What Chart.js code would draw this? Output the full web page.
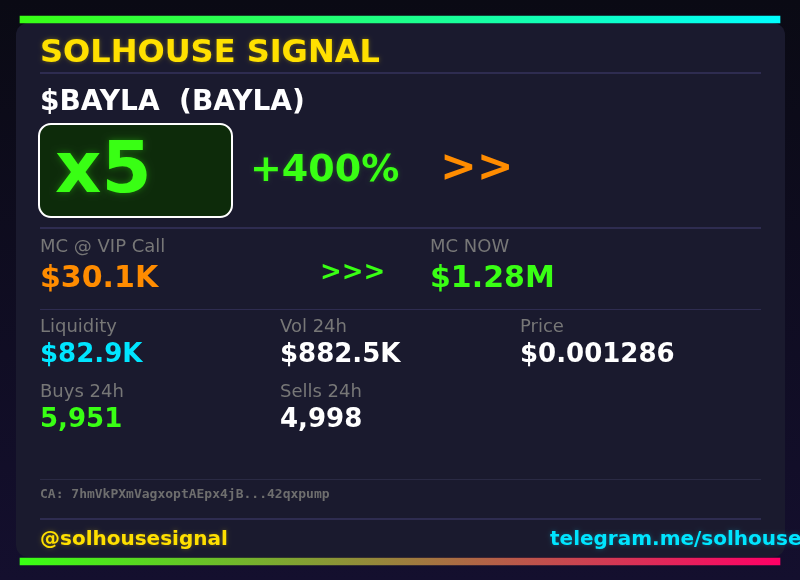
<!DOCTYPE html>
<html>
<head>
<meta charset="utf-8">
<title>Solhouse Signal</title>
<script src="https://cdn.jsdelivr.net/npm/chart.js@4"></script>
<style>
    html, body { margin: 0; padding: 0; background: #0a0a14; }
    canvas { display: block; }
</style>
</head>
<body>
<canvas id="card" width="800" height="580"></canvas>
<script>
// card content
const brand = 'SOLHOUSE SIGNAL';
const tokenName = '$BAYLA  (BAYLA)';
const multiple = 'x5';
const gain = '+400%';
const gainArrows = '>>';
const mcArrows = '>>>';
const statLabels = ['MC @ VIP Call', 'MC NOW', 'Liquidity', 'Vol 24h', 'Price', 'Buys 24h', 'Sells 24h'];
const statValues = ['$30.1K', '$1.28M', '$82.9K', '$882.5K', '$0.001286', '5,951', '4,998'];
const contract = 'CA: 7hmVkPXmVagxoptAEpx4jB...42qxpump';
const handle = '@solhousesignal';
const link = 'telegram.me/solhouse';

// the two gradient rules are the bars of the chart
const ruleNames = ['top', 'bottom'];
const ruleValues = [1, 1];

const GREEN = '#39ff14', ORANGE = '#ff8c00', CYAN = '#00e5ff', YELLOW = '#ffe000', WHITE = '#ffffff', GREY = '#777777';
const SANS = '"DejaVu Sans"';

const statColors = [ORANGE, GREEN, CYAN, WHITE, WHITE, GREEN, WHITE];
const statSpots = [
    { x: 40, labelY: 252, valueY: 287, size: 30 },
    { x: 430, labelY: 252, valueY: 287, size: 30 },
    { x: 40, labelY: 332, valueY: 362, size: 26 },
    { x: 280, labelY: 332, valueY: 362, size: 26 },
    { x: 520, labelY: 332, valueY: 362, size: 26 },
    { x: 40, labelY: 397, valueY: 427, size: 26 },
    { x: 280, labelY: 397, valueY: 427, size: 26 },
];

function roundRectPath(ctx, x, y, w, h, r) {
    ctx.beginPath();
    ctx.roundRect(x, y, w, h, r);
}

function label(ctx, text, x, y, font, color, glow, blur) {
    ctx.save();
    ctx.font = font;
    ctx.fillStyle = color;
    ctx.textBaseline = 'alphabetic';
    if (glow) {
        ctx.shadowColor = glow;
        ctx.shadowBlur = blur || 4;
    }
    ctx.fillText(text, x, y);
    ctx.restore();
}

function divider(ctx, y, h, color) {
    ctx.fillStyle = color;
    ctx.fillRect(40, y, 721, h);
}

const cardPlugin = {
    id: 'card',
    beforeDraw(chart) {
        const ctx = chart.ctx;
        const bg = ctx.createLinearGradient(0, 0, 0, 580);
        bg.addColorStop(0, '#0a0a14');
        bg.addColorStop(1, '#140f2e');
        ctx.fillStyle = bg;
        ctx.fillRect(0, 0, 800, 580);

        ctx.fillStyle = '#1a1a2e';
        roundRectPath(ctx, 16, 23, 769, 534, 12);
        ctx.fill();

        divider(ctx, 72, 2, '#2e2c50');
        divider(ctx, 227, 2, '#2e2c50');
        divider(ctx, 309, 1, '#2e2c50');
        divider(ctx, 479, 1, '#2a2a44');
        divider(ctx, 518, 2, '#2e2c50');

        ctx.fillStyle = '#0d2b0a';
        ctx.strokeStyle = WHITE;
        ctx.lineWidth = 2;
        roundRectPath(ctx, 39, 124, 193, 93, 12);
        ctx.fill();
        ctx.stroke();
    },
    afterDraw(chart) {
        const ctx = chart.ctx;
        label(ctx, brand, 40, 62, `bold 32px ${SANS}`, YELLOW, 'rgba(255,224,0,0.35)');
        label(ctx, tokenName, 40, 110, `bold 28px ${SANS}`, WHITE);
        label(ctx, multiple, 55, 192, `bold 72px ${SANS}`, GREEN, 'rgba(57,255,20,0.35)', 7);
        label(ctx, gain, 250, 181, `bold 38px ${SANS}`, GREEN, 'rgba(57,255,20,0.25)');
        label(ctx, gainArrows, 440, 181, `bold 44px ${SANS}`, ORANGE);
        label(ctx, mcArrows, 320, 280, `bold 26px ${SANS}`, GREEN);

        statLabels.forEach((text, i) => {
            const spot = statSpots[i];
            label(ctx, text, spot.x, spot.labelY, `18px ${SANS}`, GREY);
            label(ctx, statValues[i], spot.x, spot.valueY, `bold ${spot.size}px ${SANS}`, statColors[i]);
        });

        label(ctx, contract, 40, 498, `bold 13px "DejaVu Sans Mono"`, '#6e6e6e');
        label(ctx, handle, 40, 545, `bold 20px ${SANS}`, YELLOW, 'rgba(255,224,0,0.3)', 4);
        label(ctx, link, 550, 545, `bold 20px ${SANS}`, CYAN, 'rgba(0,229,255,0.3)', 4);
    }
};

new Chart(document.getElementById('card'), {
    type: 'bar',
    plugins: [cardPlugin],
    data: {
        labels: ruleNames,
        datasets: [{
            data: ruleValues,
            barThickness: 7,
            clip: false,
            backgroundColor(c) {
                const area = c.chart.chartArea;
                if (!area) return GREEN;
                const g = c.chart.ctx.createLinearGradient(area.left, 0, area.right, 0);
                g.addColorStop(0, GREEN);
                g.addColorStop(1, c.dataIndex === 0 ? '#00ffff' : '#ff0066');
                return g;
            },
        }],
    },
    options: {
        indexAxis: 'y',
        responsive: false,
        animation: false,
        layout: { padding: { left: 20, right: 20, top: 19.5, bottom: 18.5 } },
        plugins: { legend: { display: false }, tooltip: { enabled: false } },
        scales: {
            x: { display: false, min: 0, max: 1 },
            y: { display: false, offset: false },
        },
    },
});
</script>
</body>
</html>
